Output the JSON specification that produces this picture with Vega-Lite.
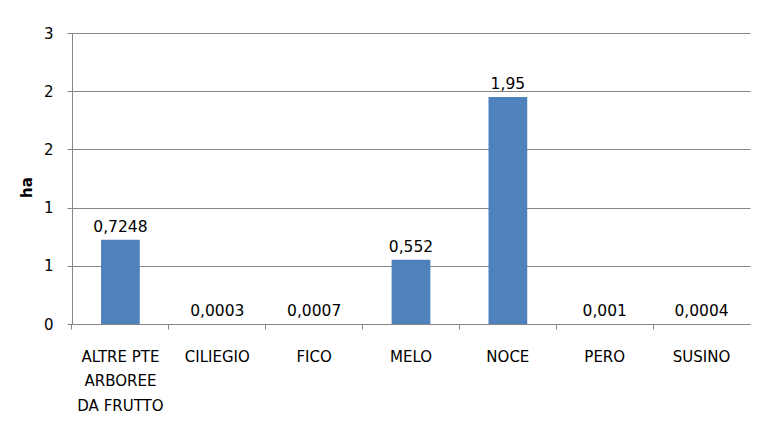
{
  "$schema": "https://vega.github.io/schema/vega-lite/v6.json",
  "width": 678,
  "height": 291,
  "autosize": {"type": "none"},
  "padding": {"left": 72, "top": 33, "right": 9, "bottom": 106},
  "background": "white",
  "data": {
    "values": [
      {"coltura": "ALTRE PTE ARBOREE DA FRUTTO", "ha": 0.7248},
      {"coltura": "CILIEGIO", "ha": 0.0003},
      {"coltura": "FICO", "ha": 0.0007},
      {"coltura": "MELO", "ha": 0.552},
      {"coltura": "NOCE", "ha": 1.95},
      {"coltura": "PERO", "ha": 0.001},
      {"coltura": "SUSINO", "ha": 0.0004}
    ]
  },
  "encoding": {
    "x": {
      "field": "coltura",
      "type": "nominal",
      "sort": null,
      "scale": {"paddingInner": 0.6, "paddingOuter": 0.3},
      "axis": {
        "title": null,
        "labelAngle": 0,
        "bandPosition": -0.75,
        "labelExpr": "datum.label == 'ALTRE PTE ARBOREE DA FRUTTO' ? ['ALTRE PTE', 'ARBOREE', 'DA FRUTTO'] : datum.label",
        "labelLineHeight": 24.5,
        "labelPadding": 20,
        "labelBaseline": "top",
        "labelFontSize": 15,
        "labelColor": "#000000",
        "tickSize": 5,
        "tickColor": "#868686",
        "domainColor": "#868686",
        "grid": false
      }
    },
    "y": {
      "field": "ha",
      "type": "quantitative",
      "scale": {"domain": [0, 2.5], "nice": false},
      "axis": {
        "title": "ha",
        "titleFontWeight": "bold",
        "titleFontSize": 15,
        "titleColor": "#000000",
        "titleX": -38,
        "titleY": 154,
        "titleAlign": "center",
        "titleBaseline": "bottom",
        "values": [0, 0.5, 1, 1.5, 2, 2.5],
        "labelExpr": "round(datum.value)",
        "labelFontSize": 15,
        "labelColor": "#000000",
        "labelPadding": 14,
        "tickSize": 5,
        "tickColor": "#868686",
        "domainColor": "#868686",
        "gridColor": "#868686",
        "gridOpacity": 1
      }
    }
  },
  "layer": [
    {"mark": {"type": "bar", "color": "#4F81BD"}},
    {
      "mark": {"type": "text", "dy": -8, "fontSize": 15.5, "color": "#000000", "baseline": "alphabetic"},
      "encoding": {
        "text": {"field": "ha", "type": "quantitative", "format": "~r"}
      }
    }
  ],
  "config": {
    "font": "DejaVu Sans",
    "view": {"stroke": null},
    "locale": {
      "number": {"decimal": ",", "thousands": ".", "grouping": [3], "currency": ["€", ""]}
    }
  }
}
